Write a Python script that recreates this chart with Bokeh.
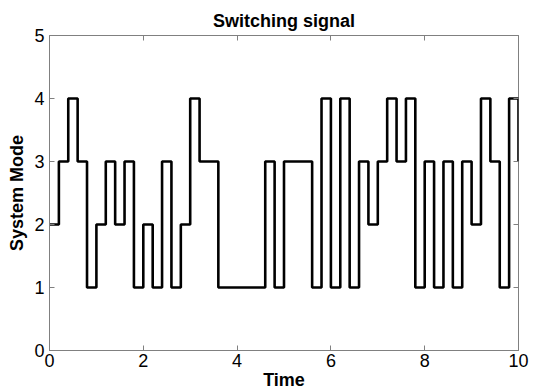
from bokeh.plotting import figure
from bokeh.models import LinearAxis, Range1d, FixedTicker, Title
from bokeh.embed import file_html
from bokeh.resources import INLINE

# Switching times and system modes (step held after each time)
times = [0.0, 0.2, 0.4, 0.6, 0.8, 1.0, 1.2, 1.4, 1.6, 1.8,
         2.0, 2.2, 2.4, 2.6, 2.8, 3.0, 3.2, 3.4, 3.6, 3.8,
         4.0, 4.2, 4.4, 4.6, 4.8, 5.0, 5.2, 5.4, 5.6, 5.8,
         6.0, 6.2, 6.4, 6.6, 6.8, 7.0, 7.2, 7.4, 7.6, 7.8,
         8.0, 8.2, 8.4, 8.6, 8.8, 9.0, 9.2, 9.4, 9.6, 9.8, 10.0]
modes = [2, 3, 4, 3, 1, 2, 3, 2, 3, 1,
         2, 1, 3, 1, 2, 4, 3, 3, 1, 1,
         1, 1, 1, 3, 1, 3, 3, 3, 1, 4,
         1, 4, 1, 3, 2, 3, 4, 3, 4, 1,
         3, 1, 3, 1, 3, 2, 4, 3, 1, 4, 3]
x_ticks = [0, 2, 4, 6, 8, 10]
y_ticks = [0, 1, 2, 3, 4, 5]

FONT = "Liberation Sans"
GRAY = "#808080"

p = figure(width=538, height=392, output_backend="svg", toolbar_location=None,
           x_range=Range1d(0, 10), y_range=Range1d(0, 5),
           min_border_left=49, min_border_right=20, min_border_top=35, min_border_bottom=41)
p.grid.visible = False
p.outline_line_color = GRAY
p.outline_line_width = 1
p.background_fill_color = "white"
p.border_fill_color = "white"

p.step(times, modes, mode="after", line_color="black", line_width=2.6)

for ax, ticks in ((p.xaxis[0], x_ticks), (p.yaxis[0], y_ticks)):
    ax.ticker = FixedTicker(ticks=ticks)
    ax.axis_line_color = GRAY
    ax.major_tick_line_color = GRAY
    ax.major_tick_in = 5
    ax.major_tick_out = 0
    ax.minor_tick_line_color = None
    ax.major_label_text_font = FONT
    ax.major_label_text_font_size = "18px"
    ax.major_label_text_color = "black"
    ax.axis_label_text_font = FONT
    ax.axis_label_text_font_size = "18px"
    ax.axis_label_text_font_style = "bold"
    ax.axis_label_text_color = "black"

p.xaxis[0].major_label_standoff = 3
p.xaxis[0].axis_label = "Time"
p.xaxis[0].axis_label_standoff = 0
p.yaxis[0].major_label_standoff = 5
p.yaxis[0].axis_label = "System Mode"
p.yaxis[0].axis_label_standoff = 4

top = LinearAxis(ticker=FixedTicker(ticks=x_ticks),
                 major_label_overrides={t: "" for t in x_ticks},
                 axis_line_color=None, major_tick_line_color=GRAY, major_tick_in=5,
                 major_tick_out=0, minor_tick_line_color=None, major_label_standoff=0)
right = LinearAxis(ticker=FixedTicker(ticks=y_ticks),
                   major_label_overrides={t: "" for t in y_ticks},
                   axis_line_color=None, major_tick_line_color=GRAY, major_tick_in=5,
                   major_tick_out=0, minor_tick_line_color=None, major_label_standoff=0)
p.add_layout(top, "above")
p.add_layout(right, "right")

p.add_layout(Title(text="Switching signal", text_font=FONT, text_font_size="18px",
                   text_font_style="bold", align="center", text_color="black",
                   offset=0), "above")

open("out.html", "w").write(file_html(p, INLINE))
